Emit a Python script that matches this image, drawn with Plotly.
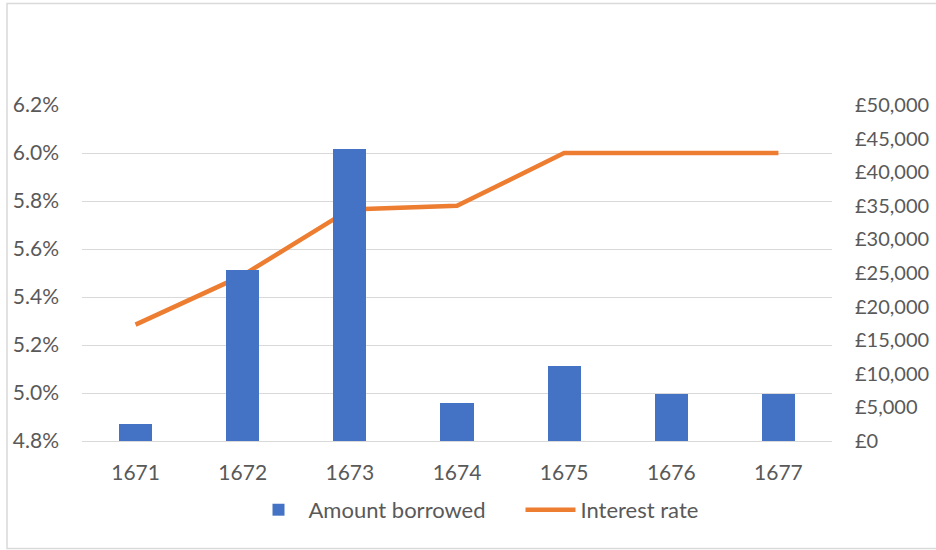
import plotly.graph_objects as go

# Loans to the Crown, 1671-1677
years = ["1671", "1672", "1673", "1674", "1675", "1676", "1677"]
amount_borrowed = [2500, 25400, 43500, 5700, 11200, 7000, 7000]   # pounds
interest_rate = [5.285, 5.49, 5.765, 5.78, 6.0, 6.0, 6.0]         # percent

left_ticks = [4.8, 5.0, 5.2, 5.4, 5.6, 5.8, 6.0, 6.2]
right_ticks = list(range(0, 50001, 5000))

BLUE = "#4472C4"
ORANGE = "#ED7D31"
GRID = "#D9D9D9"
TEXT = "#595959"
FONT = "Lato, Carlito, Calibri, sans-serif"

fig = go.Figure()

fig.add_trace(go.Bar(
    x=years, y=amount_borrowed, name="Amount borrowed",
    marker=dict(color=BLUE, line=dict(width=0)),
    width=0.31, yaxis="y2",
))

fig.add_trace(go.Scatter(
    x=years, y=interest_rate, name="Interest rate",
    mode="lines", line=dict(color=ORANGE, width=4.5),
    yaxis="y",
))

fig.update_layout(
    width=936, height=550,
    margin=dict(l=82, r=104, t=105, b=109, autoexpand=False),
    paper_bgcolor="white", plot_bgcolor="white",
    font=dict(family=FONT, size=21, color=TEXT),
    bargap=0,
    xaxis=dict(
        type="category", showgrid=False, zeroline=False,
        showline=True, linecolor=GRID, linewidth=1,
        ticks="", ticklabelstandoff=13, automargin=False,
        tickfont=dict(size=21, color=TEXT),
    ),
    yaxis=dict(
        range=[4.8, 6.2], tickvals=left_ticks,
        ticktext=[f"{v:.1f}%" for v in left_ticks],
        showgrid=True, gridcolor=GRID, gridwidth=1,
        zeroline=False, showline=False, ticks="",
        ticklabelstandoff=22, automargin=False,
        tickfont=dict(size=21, color=TEXT),
    ),
    yaxis2=dict(
        range=[0, 50000], tickvals=right_ticks,
        ticktext=[f"£{v:,}" for v in right_ticks],
        overlaying="y", side="right",
        showgrid=False, zeroline=False, showline=False, ticks="",
        ticklabelstandoff=22, automargin=False,
        tickfont=dict(size=20, color=TEXT),
    ),
    legend=dict(
        orientation="h", x=0.222, xanchor="left", y=-0.205, yanchor="middle",
        font=dict(size=22, color=TEXT), itemwidth=50,
        entrywidth=207, entrywidthmode="pixels",
        traceorder="normal", bgcolor="rgba(0,0,0,0)",
    ),
    shapes=[dict(
        type="rect", xref="paper", yref="paper",
        x0=-0.1, x1=1.2, y0=-0.32, y1=1.302,
        line=dict(color=GRID, width=1.5), fillcolor="rgba(0,0,0,0)",
        layer="below",
    )],
)

fig.write_html("out.html")
